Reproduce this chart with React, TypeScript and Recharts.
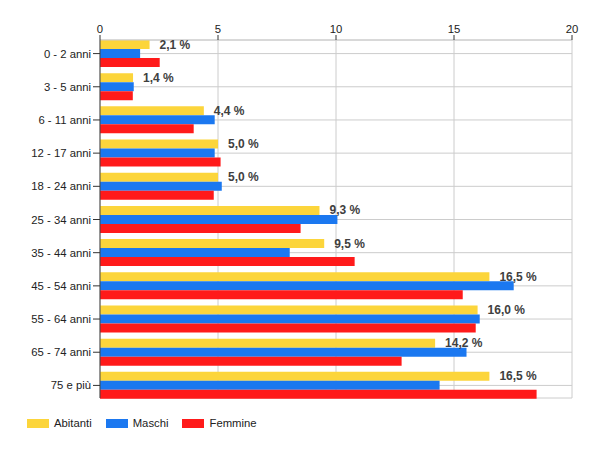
import { BarChart, Bar, XAxis, YAxis, CartesianGrid, LabelList } from "recharts";

const categories = [
  "0 - 2 anni",
  "3 - 5 anni",
  "6 - 11 anni",
  "12 - 17 anni",
  "18 - 24 anni",
  "25 - 34 anni",
  "35 - 44 anni",
  "45 - 54 anni",
  "55 - 64 anni",
  "65 - 74 anni",
  "75 e più",
];
const abitanti = [2.1, 1.4, 4.4, 5.0, 5.0, 9.3, 9.5, 16.5, 16.0, 14.2, 16.5];
const maschi = [1.7, 1.43, 4.86, 4.86, 5.16, 10.06, 8.04, 17.53, 16.09, 15.53, 14.39];
const femmine = [2.53, 1.39, 3.97, 5.11, 4.82, 8.5, 10.79, 15.37, 15.92, 12.78, 18.5];
const xTicks = [0, 5, 10, 15, 20];

const series = [
  { key: "abitanti", name: "Abitanti", color: "#FCD53B" },
  { key: "maschi", name: "Maschi", color: "#1B78F0" },
  { key: "femmine", name: "Femmine", color: "#FF1A1A" },
];

const FONT = "Arial, 'Liberation Sans', sans-serif";

const rows = categories.map((name, i) => ({
  name,
  abitanti: abitanti[i],
  maschi: maschi[i],
  femmine: femmine[i],
}));

const fmtPct = (v: number) => `${v.toFixed(1).replace(".", ",")} %`;

function ValueLabel(props: any) {
  const { x = 0, y = 0, width = 0, height = 0, value } = props;
  if (value == null) return null;
  return (
    <text
      x={Number(x) + Number(width) + 10}
      y={Number(y) + Number(height) / 2}
      dominantBaseline="central"
      fill="#404040"
      fontSize={12}
      fontWeight={700}
      fontFamily={FONT}
    >
      {fmtPct(Number(value))}
    </text>
  );
}

export default function App() {
  return (
    <div style={{ position: "absolute", left: 0, top: 0, width: 600, height: 450, fontFamily: FONT, background: "#fff" }}>
      <BarChart
        width={600}
        height={450}
        layout="vertical"
        data={rows}
        margin={{ top: 10, right: 28, bottom: 52, left: 0 }}
        barGap={0}
        barSize={9}
      >
        <CartesianGrid stroke="#cccccc" />
        <XAxis
          type="number"
          orientation="top"
          domain={[0, 20]}
          ticks={xTicks}
          height={30}
          axisLine={{ stroke: "#cccccc" }}
          tickLine={{ stroke: "#333333" }}
          tickSize={5}
          tickMargin={2}
          tick={{ fill: "#222222", fontSize: 11.3, fontFamily: FONT }}
        />
        <YAxis
          type="category"
          dataKey="name"
          width={100}
          padding={{ top: -3, bottom: -4 }}
          axisLine={{ stroke: "#444444" }}
          tickLine={{ stroke: "#333333" }}
          tickSize={7}
          tickMargin={2}
          tick={{ fill: "#222222", fontSize: 11.3, fontFamily: FONT }}
        />
        {series.map((s) => (
          <Bar key={s.key} dataKey={s.key} name={s.name} fill={s.color} isAnimationActive={false}>
            {s.key === "abitanti" ? <LabelList dataKey="abitanti" content={ValueLabel} /> : null}
          </Bar>
        ))}
      </BarChart>
      <div style={{ position: "absolute", left: 27, top: 417, display: "flex", alignItems: "center", fontSize: 11.3, color: "#222" }}>
        {series.map((s) => (
          <div key={s.key} style={{ display: "flex", alignItems: "center", marginRight: 14 }}>
            <span style={{ display: "inline-block", width: 22, height: 9, background: s.color, marginRight: 5 }} />
            <span>{s.name}</span>
          </div>
        ))}
      </div>
    </div>
  );
}
